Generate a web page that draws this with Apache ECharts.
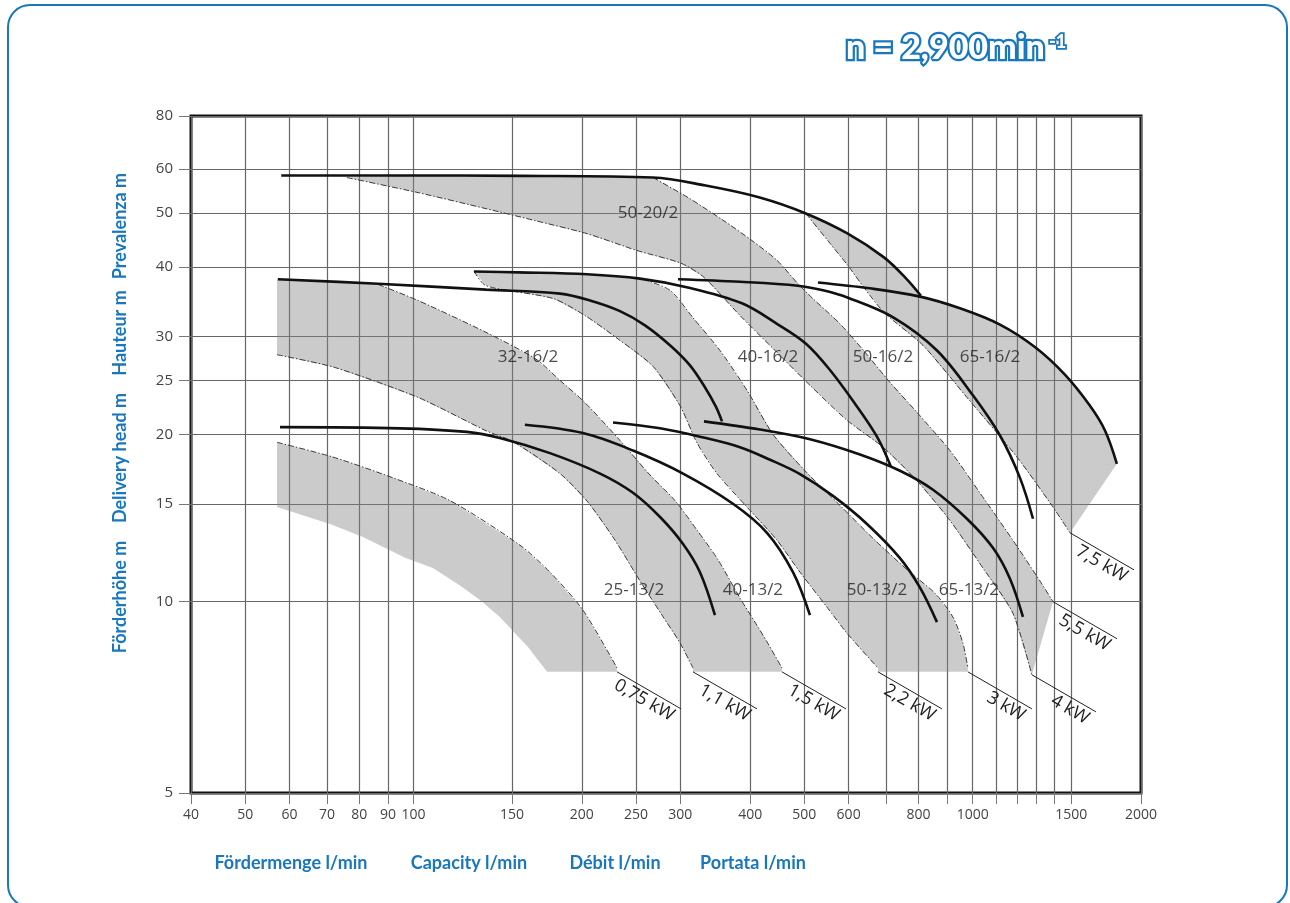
<!DOCTYPE html>
<html>
<head>
<meta charset="utf-8">
<title>Kennlinien n = 2900 min-1</title>
<script src="https://cdn.jsdelivr.net/npm/echarts@6.0.0/dist/echarts.min.js"></script>
<style>
  html, body { margin: 0; padding: 0; background: #fff; }
  #chart { width: 1290px; height: 903px; }
</style>
</head>
<body>
<div id="chart"></div>
<script>
// ---- axes (capacity l/min, head m) ----
const xLabelValues = [40, 50, 60, 70, 80, 90, 100, 150, 200, 250, 300, 400, 500, 600, 800, 1000, 1500, 2000];
const xGridValues = [40, 50, 60, 70, 80, 90, 100, 150, 200, 250, 300, 400, 500, 600, 700, 800, 900, 1000, 1100, 1200, 1300, 1400, 1500, 2000];
const yGridValues = [10, 15, 20, 25, 30, 40, 50, 60];
// the printed frame edges carry the labels "5" and "80"
const yFrameMin = 4.53;
const yFrameMax = 74.7;
const yFrameLabels = ['5', '80'];

// ---- H-Q curves [Q, H] ----
const c5020 = [[58, 58.4], [95, 58.4], [155, 58.3], [268, 57.9], [333, 56.0], [416, 53.3], [503, 49.9], [598, 45.9], [694, 41.6], [757, 38.3], [808, 35.5]];
const c3216 = [[57.2, 38.0], [86.4, 37.3], [134.8, 36.4], [182.8, 35.8], [206.8, 34.8], [234, 33.3], [259.4, 31.4], [288.8, 28.8], [312.2, 26.6], [332, 24.3], [347.5, 22.4], [356.2, 21.1]];
const c4016 = [[128.3, 39.25], [154.4, 39.1], [204.3, 38.8], [254.1, 38.1], [310.9, 36.7], [386.7, 34.4], [446.7, 31.6], [503.4, 29.1], [555.6, 26.1], [615.9, 22.7], [674.3, 19.8], [714, 17.5]];
const c5016 = [[297.2, 38.0], [383.6, 37.6], [487, 37.0], [539.8, 36.3], [598.4, 35.2], [723.3, 32.4], [863.3, 28.3], [1001, 23.5], [1119, 19.9], [1215, 16.7], [1282, 14.1]];
const c6516 = [[528.8, 37.5], [655.1, 36.6], [801.7, 35.4], [949, 33.7], [1119, 31.5], [1292, 28.7], [1462, 25.6], [1621, 22.5], [1725, 20.3], [1811, 17.7]];
const c2513 = [[57.7, 20.6], [94.6, 20.5], [124.6, 20.2], [142.7, 19.7], [175.4, 18.5], [215.6, 17.0], [246.9, 15.7], [276, 14.2], [303.4, 12.7], [325.3, 11.3], [346, 9.46]];
const c4013 = [[158.2, 20.8], [200.9, 20.1], [246.9, 18.7], [303.4, 17.0], [372.7, 15.0], [428.7, 13.3], [477.1, 11.3], [511.7, 9.46]];
const c5013 = [[227.4, 21.0], [276, 20.5], [325.3, 19.8], [383.6, 18.96], [434.1, 18.0], [491.1, 16.96], [562.5, 15.5], [647.1, 13.8], [741.3, 11.98], [805, 10.6], [863.3, 9.19]];
const c6513 = [[330.7, 21.1], [416.5, 20.4], [511.7, 19.6], [628.7, 18.4], [741.3, 17.2], [849.2, 15.9], [976.6, 14.1], [1087, 12.5], [1166, 11.0], [1230, 9.39]];

// ---- motor power limits (dash-dot), from top start to bottom end ----
const kw075 = [[57, 19.35], [71.8, 18.2], [91.9, 16.7], [116.2, 15.2], [155, 12.64], [175.4, 11.3], [200.9, 9.66], [231.2, 7.6]];
const kw11 = [[57, 27.8], [72.1, 26.4], [101.9, 23.3], [134.8, 20.3], [150.6, 19.4], [182.8, 17.0], [205.1, 15.1], [229.3, 12.9], [254.1, 10.9], [278.2, 9.46], [299.7, 8.43], [316.1, 7.6]];
const kw15 = [[86.4, 37.2], [101.9, 34.8], [134.8, 30.5], [165.6, 27.3], [182.8, 25.0], [202.6, 22.8], [234, 19.5], [264.8, 16.9], [293.5, 15.2], [321.4, 13.45], [350.4, 11.9], [383.6, 10.15], [408, 9.19], [428.7, 8.47], [456, 7.6]];
const kw22 = [[128.3, 39.25], [134.8, 37.0], [177.6, 35.1], [202.6, 32.7], [233, 29.6], [268.1, 26.5], [299.7, 22.5], [321.4, 19.3], [348.9, 17.0], [394.8, 14.8], [446.7, 12.9], [491.1, 11.3], [548.8, 9.78], [595.9, 8.78], [677, 7.6]];
const kw3 = [[257.3, 38.0], [287.6, 36.3], [316.1, 32.4], [353.2, 28.3], [394.8, 24.0], [439.4, 20.0], [501.3, 17.2], [579, 14.9], [668.8, 12.9], [772.3, 11.3], [856, 10.36], [921.6, 9.39], [960.4, 8.43], [980.6, 7.6]];
const kw4 = [[76, 57.9], [101.9, 54.4], [134.8, 50.9], [165.6, 48.4], [204.3, 45.9], [251, 42.8], [300.9, 40.6], [330.7, 38.3], [383.6, 32.7], [443.1, 28.3], [511.7, 24.5], [595.9, 21.2], [691.2, 18.96], [795, 16.5], [910.7, 14.0], [1043, 11.5], [1180, 9.54], [1276, 7.39]];
const kw55 = [[268.1, 57.9], [309.7, 53.3], [359.1, 48.4], [403, 44.6], [446.7, 41.1], [487, 37.3], [515.9, 35.2], [579, 31.6], [641.8, 28.1], [711.3, 24.8], [795, 21.9], [910.7, 18.7], [1030, 15.7], [1180, 12.9], [1319, 10.9], [1392, 10.0]];
const kw75 = [[503, 49.9], [555.6, 44.1], [598.4, 40.2], [644.5, 36.3], [696.8, 33.0], [815.1, 28.9], [976.6, 23.3], [1200, 18.2], [1392, 14.8], [1493, 13.3]];

// lower edge of the smallest pump field and the common lower cut
const g1Lower = [[57, 14.8], [70.9, 13.8], [81.2, 13.07], [96.6, 12.0], [108.3, 11.5], [121.1, 10.7], [131.5, 10.07], [142.7, 9.39], [160.2, 8.29], [173.3, 7.48]];
const bottomH = 7.48;

// kW labels and where their leader lines start
const kwLabels = ['0,75 kW', '1,1 kW', '1,5 kW', '2,2 kW', '3 kW', '4 kW', '5,5 kW', '7,5 kW'];
const kwAnchors = [[231.2, 7.48], [316.1, 7.48], [456, 7.48], [677, 7.48], [980.6, 7.48], [1276, 7.39], [1392, 10.0], [1493, 13.3]];

// pump type labels
const pumpNames = ['50-20/2', '32-16/2', '40-16/2', '50-16/2', '65-16/2', '25-13/2', '40-13/2', '50-13/2', '65-13/2'];
const pumpLabelQ = [262.6, 160.2, 430.5, 691.2, 1073.7, 247.9, 404.6, 674.3, 984.7];
const pumpLabelH = [49.9, 27.5, 27.5, 27.5, 27.5, 10.5, 10.5, 10.5, 10.5];

// ---- shaded fields built from the lines above ----
const rev = a => a.slice().reverse();
const bands = [
    [...g1Lower, [231.2, bottomH], ...rev(kw075)],
    [[57, 38.0], ...kw11, [316.1, bottomH], [456, bottomH], ...rev(kw15)],
    [...c4016.slice(0, 4), ...kw3, [980.6, bottomH], [677, bottomH], ...rev(kw22)],
    [...c5020.filter(p => p[0] > 76 && p[0] < 268), ...kw55, ...rev(kw4)],
    [...c5020.filter(p => p[0] >= 503), ...c6516.filter(p => p[0] > 808.3), ...rev(kw75)]
];

const BLUE = '#1877bd';
const FONT = '"Open Sans", "DejaVu Sans", sans-serif';
const TITLE_FONT = 'bold 18px Lato, sans-serif';

const chart = echarts.init(document.getElementById('chart'), null, { renderer: 'canvas' });

function curve(data) {
    return {
        type: 'line', data, showSymbol: false, smooth: 0.35, z: 4, silent: true,
        lineStyle: { color: '#111', width: 2.6 }
    };
}
function dashLine(data) {
    return {
        type: 'line', data, showSymbol: false, smooth: 0.25, z: 3, silent: true,
        lineStyle: { color: '#3a3a3a', width: 1, type: [6, 2, 1.5, 2] }
    };
}
function axisTitle(text, x, y, vertical) {
    return {
        type: 'text', x, y, rotation: vertical ? Math.PI / 2 : 0, silent: true,
        style: { text, font: TITLE_FONT, fill: BLUE, align: 'center', verticalAlign: 'middle' }
    };
}

const option = {
    animation: false,
    backgroundColor: '#fff',
    grid: { left: 191, right: 149, top: 116, bottom: 110, show: true, borderColor: '#111', borderWidth: 3 },
    xAxis: {
        type: 'log', logBase: 10, min: 40, max: 2000,
        axisLine: { show: false },
        axisTick: { show: true, length: 11, customValues: xGridValues, lineStyle: { color: '#777' } },
        axisLabel: { customValues: xLabelValues, margin: 15, color: '#444', fontSize: 14, fontFamily: FONT, hideOverlap: false, formatter: v => String(Math.round(v)) },
        splitLine: { show: true, lineStyle: { color: '#666', width: 1.2 } },
        minorTick: { show: false }, minorSplitLine: { show: false }
    },
    yAxis: {
        type: 'log', logBase: 10, min: yFrameMin, max: yFrameMax,
        axisLine: { show: false },
        axisTick: { show: true, length: 12, customValues: [yFrameMin, ...yGridValues, yFrameMax], lineStyle: { color: '#777' } },
        axisLabel: {
            customValues: [yFrameMin, ...yGridValues, yFrameMax], margin: 18, color: '#444', fontSize: 15, fontFamily: FONT,
            formatter: v => Math.abs(v - yFrameMin) < 1e-6 ? yFrameLabels[0] : Math.abs(v - yFrameMax) < 1e-6 ? yFrameLabels[1] : String(Math.round(v))
        },
        splitLine: { show: true, lineStyle: { color: '#666', width: 1.2 } },
        minorTick: { show: false }, minorSplitLine: { show: false }
    },
    graphic: [
        { type: 'rect', shape: { x: 8, y: 5, width: 1279, height: 902, r: 22 }, style: { fill: 'none', stroke: BLUE, lineWidth: 2 }, silent: true },
        { type: 'text', x: 846, y: 31, style: { text: 'n = 2,900min', font: '900 34px Lato, sans-serif', fill: '#fff', stroke: BLUE, lineWidth: 4.5 }, silent: true },
        { type: 'text', x: 1049, y: 33, style: { text: '-1', font: '900 18px Lato, sans-serif', fill: '#fff', stroke: BLUE, lineWidth: 3.5 }, silent: true },
        axisTitle('Förderhöhe m', 120, 597, true),
        axisTitle('Delivery head m', 120, 458, true),
        axisTitle('Hauteur m', 120, 333, true),
        axisTitle('Prevalenza m', 120, 226, true),
        axisTitle('Fördermenge l/min', 291, 863),
        axisTitle('Capacity l/min', 469, 863),
        axisTitle('Débit l/min', 615, 863),
        axisTitle('Portata l/min', 753, 863)
    ],
    series: [
        {
            type: 'custom', z: 2, silent: true,
            data: bands.map(b => b[0]),
            renderItem: (params, api) => ({
                type: 'polygon',
                shape: { points: bands[params.dataIndex].map(p => api.coord(p)) },
                style: { fill: 'rgba(130,130,130,0.42)' }
            })
        },
        ...[kw075, kw11, kw15, kw22, kw3, kw4, kw55, kw75].map(dashLine),
        ...[c5020, c3216, c4016, c5016, c6516, c2513, c4013, c5013, c6513].map(curve),
        {
            type: 'scatter', z: 5, silent: true, symbolSize: 0,
            data: pumpNames.map((n, i) => ({ name: n, value: [pumpLabelQ[i], pumpLabelH[i]] })),
            label: { show: true, position: 'inside', formatter: '{b}', color: '#1e1e1e', fontSize: 17, fontFamily: FONT }
        },
        {
            type: 'custom', z: 5, silent: true,
            data: kwAnchors,
            renderItem: (params, api) => {
                const p0 = api.coord(kwAnchors[params.dataIndex]);
                const dx = 64, dy = 37;
                const len = Math.hypot(dx, dy), ux = dx / len, uy = dy / len;
                const p1 = [p0[0] + dx, p0[1] + dy];
                return {
                    type: 'group',
                    children: [
                        { type: 'line', shape: { x1: p0[0], y1: p0[1], x2: p1[0], y2: p1[1] }, style: { stroke: '#222', lineWidth: 1 } },
                        {
                            type: 'text', x: p1[0] - uy * 11 - ux * 3, y: p1[1] + ux * 11 - uy * 3, rotation: -Math.atan2(dy, dx),
                            style: { text: kwLabels[params.dataIndex], align: 'right', verticalAlign: 'middle', font: '18px ' + FONT, fill: '#222' }
                        }
                    ]
                };
            }
        }
    ]
};

chart.setOption(option);
</script>
</body>
</html>
